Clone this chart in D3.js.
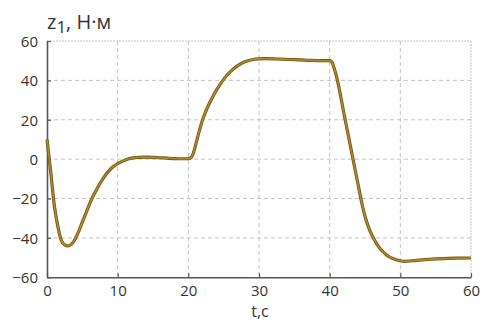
<!DOCTYPE html>
<html>
<head>
<meta charset="utf-8">
<script src="https://cdn.jsdelivr.net/npm/d3@7"></script>
<style>
  html, body { margin: 0; padding: 0; background: #fff; }
  svg { display: block; }
  text { font-family: "Open Sans", "DejaVu Sans", sans-serif; fill: #333; }
</style>
</head>
<body>
<svg id="chart" width="482" height="322"></svg>
<script>
// Time, s
const times = [
  0, 0.5, 1, 1.5, 2, 2.5, 3, 3.5, 4, 4.5, 5, 5.5, 6, 6.5, 7, 8, 9, 10, 11, 12, 13, 14, 15,
  16, 17, 18, 19, 20, 20.4, 20.8, 21.2, 21.6, 22, 22.5, 23, 23.5, 24, 24.5, 25, 25.5, 26, 27, 28, 29, 30, 31,
  33, 35, 37, 39, 40, 40.3, 40.6, 41, 41.5, 42, 42.5, 43, 43.5, 44, 44.5, 45,
  45.5, 46, 46.5, 47, 48, 49, 50, 50.5, 51, 52, 54, 56, 58, 60
];
// Torque z1, N·m
const torque = [
  10, -5.5, -22.5, -33.5, -41, -43.5, -44, -43, -40.5, -36.5, -32, -27.5, -23, -19, -15.5, -9.5, -5, -2.3, -0.5, 0.5, 0.9, 1.0, 0.9,
  0.7, 0.5, 0.3, 0.2, 0.2, 0.8, 4, 9.5, 15, 19.8, 24.5, 28.5, 32, 35.2, 38, 40.5, 42.7, 44.6, 47.5, 49.5, 50.5, 50.9, 51,
  50.8, 50.5, 50.2, 50, 50, 49.4, 46.5, 41.5, 33, 23.6, 14.5, 5.5, -3.6, -12.5, -21.5, -29,
  -34.5, -38.8, -42, -44.8, -48.5, -50.6, -51.6, -51.9, -51.8, -51.5, -50.9, -50.5, -50.3, -50.2
];
const xTicks = [0, 10, 20, 30, 40, 50, 60];
const yTicks = [-60, -40, -20, 0, 20, 40, 60];

const svg = d3.select("#chart");
const plotLeft = 47, plotRight = 471, plotTop = 41, plotBottom = 277.3;

const x = d3.scaleLinear().domain([0, 60]).range([plotLeft, plotRight]);
const y = d3.scaleLinear().domain([-60, 60]).range([plotBottom, plotTop]);

// dashed grid
const grid = svg.append("g").attr("stroke", "#c4c4c4").attr("stroke-width", 1);
grid.selectAll("line.v").data(xTicks.filter(d => d > 0 && d < 60)).join("line")
  .attr("x1", d => x(d)).attr("x2", d => x(d))
  .attr("y1", plotTop).attr("y2", plotBottom)
  .attr("stroke-dasharray", "4,3");
grid.selectAll("line.h").data(yTicks.filter(d => d > -60 && d < 60)).join("line")
  .attr("x1", plotLeft).attr("x2", plotRight)
  .attr("y1", d => y(d)).attr("y2", d => y(d))
  .attr("stroke-dasharray", "4,3");
// top and right frame
grid.append("line").attr("x1", plotLeft).attr("x2", plotRight).attr("y1", plotTop).attr("y2", plotTop)
  .attr("stroke-dasharray", "2,1");
grid.append("line").attr("x1", plotRight).attr("x2", plotRight).attr("y1", plotTop).attr("y2", plotBottom)
  .attr("stroke-dasharray", "2,1");

// axes with inward ticks
const xAxis = svg.append("g").attr("transform", `translate(0,${plotBottom})`)
  .call(d3.axisBottom(x).tickValues(xTicks).tickSizeInner(-4).tickSizeOuter(0).tickPadding(10));
const yAxis = svg.append("g").attr("transform", `translate(${plotLeft},0)`)
  .call(d3.axisLeft(y).tickValues(yTicks).tickSizeInner(-4).tickSizeOuter(0).tickPadding(10));
[xAxis, yAxis].forEach(a => {
  a.select(".domain").attr("stroke", "#555").attr("stroke-width", 1.6);
  a.selectAll(".tick line").attr("stroke", "#555").attr("stroke-width", 1.2);
  a.selectAll(".tick text").attr("font-size", 15).attr("fill", "#333")
    .attr("font-family", "'Open Sans', sans-serif");
});
yAxis.selectAll(".tick text").attr("x", -9).attr("dy", "0.36em");
xAxis.selectAll(".tick text").attr("y", 8);

// curve
const data = times.map((t, i) => [t, torque[i]]);
const line = d3.line().x(d => x(d[0])).y(d => y(d[1])).curve(d3.curveMonotoneX);
svg.append("path").datum(data).attr("d", line)
  .attr("fill", "none").attr("stroke", "#6e5618").attr("stroke-width", 3.2)
  .attr("stroke-linejoin", "round");
svg.append("path").datum(data).attr("d", line)
  .attr("fill", "none").attr("stroke", "#b08a28").attr("stroke-width", 1.6)
  .attr("stroke-linejoin", "round");

// titles
const title = svg.append("text").attr("x", 47).attr("y", 29).attr("font-size", 20);
title.append("tspan").text("z");
title.append("tspan").attr("dy", 4).attr("font-size", 17).text("1");
title.append("tspan").attr("dy", -4).text(", Н·м");

svg.append("text").attr("x", 260).attr("y", 317).attr("text-anchor", "middle")
  .attr("font-size", 16).text("t,c");
</script>
</body>
</html>
